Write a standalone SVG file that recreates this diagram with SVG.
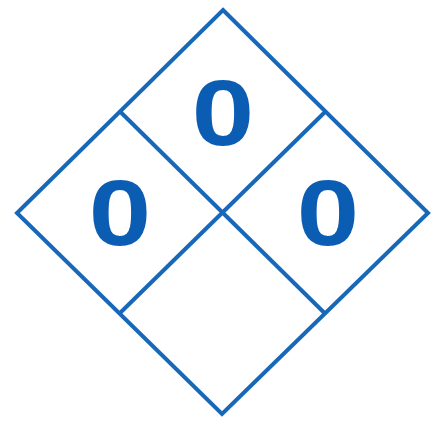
<svg xmlns="http://www.w3.org/2000/svg" width="438" height="421" viewBox="0 0 438 421">
<style>
.ln{fill:none;stroke:#1768b8;stroke-width:4;stroke-linejoin:miter}
.num{font-family:"Liberation Sans",Arial,sans-serif;font-weight:bold;font-size:92px;fill:#0b5cb3;text-anchor:middle}
</style>
<rect width="438" height="421" fill="#ffffff"/>
<g id="connectors">
<polygon class="ln" points="223,10 428,213 222,414 17,213"/>
<line class="ln" x1="120" y1="111.5" x2="325" y2="313.5"/>
<line class="ln" x1="325.5" y1="111.5" x2="119.5" y2="313.5"/>
</g>
<g id="top"><text class="num" transform="translate(223,145) scale(1.22,1)">0</text></g>
<g id="left"><text class="num" transform="translate(120,245) scale(1.22,1)">0</text></g>
<g id="right"><text class="num" transform="translate(328,245) scale(1.22,1)">0</text></g>
<g id="bottom"></g>
</svg>
